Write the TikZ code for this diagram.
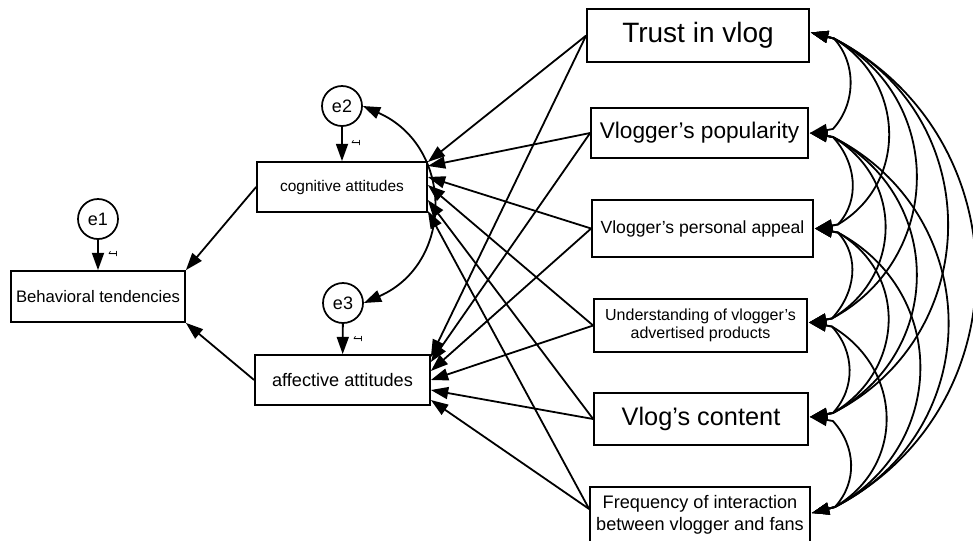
\documentclass[tikz,border=0pt]{standalone}
\usepackage{fontspec}
\usepackage{graphicx}
\setmainfont{Liberation Sans}
\usetikzlibrary{arrows.meta,calc}
\begin{document}
\begin{tikzpicture}[x=0.75pt,y=-0.75pt,
  box/.style={draw, line width=1.3pt, inner sep=0pt, align=center},
  err/.style={draw, circle, line width=1.3pt, minimum size=30pt, inner sep=0pt, font=\fontsize{13.5}{14}\selectfont},
  reg/.style={line width=1.35pt, -{Triangle[length=13pt,width=9pt]}},
  cov/.style={line width=1.35pt, {Triangle[length=13pt,width=9pt]}-{Triangle[length=13pt,width=9pt]}},
  one/.style={font=\fontsize{9}{9}\selectfont, inner sep=0pt, rotate=90}
]
\useasboundingbox (0,0) rectangle (973,540);

% endogenous and error nodes
\node[box, minimum width=130.5pt, minimum height=38.25pt, font=\fontsize{12.5}{14}\selectfont] (beh) at (98,296.5) {Behavioral tendencies};
\node[box, minimum width=127.5pt, minimum height=37.5pt, font=\fontsize{11.6}{13}\selectfont] (cog) at (342,187) {cognitive attitudes};
\node[box, minimum width=131.25pt, minimum height=37.5pt, font=\fontsize{13.6}{15}\selectfont] (aff) at (342.5,380) {affective attitudes};
\node[err] (e1) at (98,219) {e1};
\node[err] (e2) at (342,106) {e2};
\node[err] (e3) at (343,303) {e3};

% exogenous nodes
\node[box, minimum width=166.5pt, minimum height=39.75pt, font=\fontsize{21}{24}\selectfont] (trust) at (698,35.5) {Trust in vlog};
\node[box, minimum width=162.75pt, minimum height=37.5pt, font=\fontsize{17}{20}\selectfont] (pop) at (699.5,133) {Vlogger's popularity};
\node[box, minimum width=165.75pt, minimum height=42.75pt, font=\fontsize{13.2}{15}\selectfont] (pers) at (702.5,228.5) {Vlogger's personal appeal};
\node[box, minimum width=159.75pt, minimum height=39.75pt, font=\fontsize{12}{13.5}\selectfont] (und) at (700.5,325.5) {Understanding of vlogger's\\advertised products};
\node[box, minimum width=160.5pt, minimum height=39pt, font=\fontsize{19}{22}\selectfont] (cont) at (701,419) {Vlog's content};
\node[box, minimum width=165pt, minimum height=42pt, font=\fontsize{13.6}{16.5}\selectfont] (freq) at (700,515) {\raisebox{3pt}{\begin{tabular}{@{}c@{}}Frequency of interaction\\between vlogger and fans\end{tabular}}};

% error paths
\draw[reg] (e1) -- (beh);
\draw[reg] (e2) -- (cog);
\draw[reg] (e3) -- (aff);
\node[one] (l1) at (113,254) {\scalebox{-1}[1]{1}};
\node[one] (l2) at (356,143) {\scalebox{-1}[1]{1}};
\node[one] (l3) at (358,339) {\scalebox{-1}[1]{1}};
\draw[cov] (e2.east) .. controls +(91,40) and +(91,-40) .. (e3.east);

% attitudes -> behaviour
\draw[reg] (cog.west) -- (beh.north east);
\draw[reg] (aff.west) -- (beh.south east);

% predictors -> cognitive
\draw[reg] (trust.west) -- ([yshift=18.75pt]cog.east);
\draw[reg] (pop.west) -- ([yshift=15.75pt]cog.east);
\draw[reg] (pers.west) -- ([yshift=7.5pt]cog.east);
\draw[reg] (und.west) -- ([yshift=1.5pt]cog.east);
\draw[reg] (cont.west) -- ([yshift=-9.75pt]cog.east);
\draw[reg] ([yshift=4.5pt]freq.west) -- ([yshift=-18pt]cog.east);

% predictors -> affective
\draw[reg] (trust.west) -- ([yshift=17.25pt]aff.east);
\draw[reg] (pop.west) -- ([yshift=13.5pt]aff.east);
\draw[reg] (pers.west) -- ([yshift=6.75pt]aff.east);
\draw[reg] (und.west) -- (aff.east);
\draw[reg] (cont.west) -- ([yshift=-7.5pt]aff.east);
\draw[reg] ([yshift=4.5pt]freq.west) -- ([yshift=-15pt]aff.east);

% covariance anchor points
\coordinate (trust-t) at ([shift={(1,-3)}]trust.east);
\coordinate (trust-d) at ([shift={(24,3)}]trust.east);
\coordinate (pop-t) at ([shift={(1,0)}]pop.east);
\coordinate (pop-u) at ([shift={(24,-4)}]pop.east);
\coordinate (pop-d) at ([shift={(24,4)}]pop.east);
\coordinate (pers-t) at ([shift={(1,0)}]pers.east);
\coordinate (pers-u) at ([shift={(24,-4)}]pers.east);
\coordinate (pers-d) at ([shift={(24,4)}]pers.east);
\coordinate (und-t) at ([shift={(1,-3)}]und.east);
\coordinate (und-u) at ([shift={(24,-7)}]und.east);
\coordinate (und-d) at ([shift={(24,1)}]und.east);
\coordinate (cont-t) at ([shift={(1,-2)}]cont.east);
\coordinate (cont-u) at ([shift={(24,-6)}]cont.east);
\coordinate (cont-d) at ([shift={(24,2)}]cont.east);
\coordinate (freq-t) at ([shift={(1,-2)}]freq.east);
\coordinate (freq-u) at ([shift={(24,-8)}]freq.east);

% k = 1
\draw[cov] (trust-t) -- (trust-d) .. controls +(23,25) and +(23,-25) .. (pop-u) -- (pop-t);
\draw[cov] (pop-t) -- (pop-d) .. controls +(23,25) and +(23,-25) .. (pers-u) -- (pers-t);
\draw[cov] (pers-t) -- (pers-d) .. controls +(23,25) and +(23,-25) .. (und-u) -- (und-t);
\draw[cov] (und-t) -- (und-d) .. controls +(23,25) and +(23,-25) .. (cont-u) -- (cont-t);
\draw[cov] (cont-t) -- (cont-d) .. controls +(23,25) and +(23,-25) .. (freq-u) -- (freq-t);
% k = 2
\draw[cov] (trust-t) -- (trust-d) .. controls +(71,42) and +(71,-42) .. (pers-u) -- (pers-t);
\draw[cov] (pop-t) -- (pop-d) .. controls +(71,42) and +(71,-42) .. (und-u) -- (und-t);
\draw[cov] (pers-t) -- (pers-d) .. controls +(71,42) and +(71,-42) .. (cont-u) -- (cont-t);
\draw[cov] (und-t) -- (und-d) .. controls +(71,42) and +(71,-42) .. (freq-u) -- (freq-t);
% k = 3
\draw[cov] (trust-t) -- (trust-d) .. controls +(112,60) and +(112,-60) .. (und-u) -- (und-t);
\draw[cov] (pop-t) -- (pop-d) .. controls +(112,60) and +(112,-60) .. (cont-u) -- (cont-t);
\draw[cov] (pers-t) -- (pers-d) .. controls +(112,60) and +(112,-60) .. (freq-u) -- (freq-t);
% k = 4
\draw[cov] (trust-t) -- (trust-d) .. controls +(153,78) and +(153,-78) .. (cont-u) -- (cont-t);
\draw[cov] (pop-t) -- (pop-d) .. controls +(153,78) and +(153,-78) .. (freq-u) -- (freq-t);
% k = 5
\draw[cov] (trust-t) -- (trust-d) .. controls +(189,99) and +(189,-99) .. (freq-u) -- (freq-t);
\end{tikzpicture}
\end{document}
